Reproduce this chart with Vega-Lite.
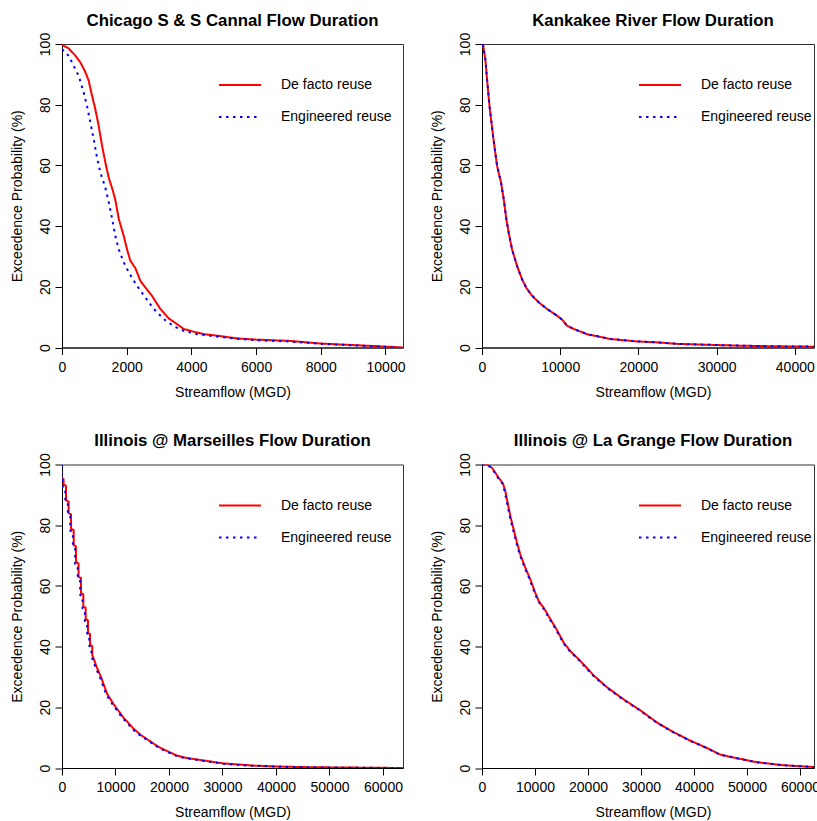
{
  "$schema": "https://vega.github.io/schema/vega-lite/v6.json",
  "background": "white",
  "padding": {"left": 9, "top": 12, "right": 0, "bottom": 0},
  "config": {
    "font": "Liberation Sans",
    "view": {"stroke": "#333333", "strokeWidth": 1},
    "axis": {"grid": false, "domainColor": "black", "domainWidth": 1, "tickColor": "black", "tickSize": 7, "labelColor": "black", "titleColor": "black", "labelFontSize": 14, "titleFontSize": 14, "titleFontWeight": "normal", "labelFont": "Liberation Sans", "titleFont": "Liberation Sans"},
    "axisX": {"labelPadding": 5.5, "format": "d", "titleY": 48.5, "titleBaseline": "alphabetic", "labelFlush": false, "labelOverlap": false},
    "axisY": {"labelAngle": -90, "labelAlign": "center", "labelBaseline": "bottom", "labelPadding": 3, "titleX": -41, "titleY": 151.75, "titleBaseline": "alphabetic", "titleAlign": "center", "titleAngle": -90, "labelFlush": false, "labelOverlap": false},
    "title": {"fontSize": 16.8, "fontWeight": "bold", "font": "Liberation Sans", "color": "black", "anchor": "middle", "frame": "group", "baseline": "alphabetic", "offset": 3},
    "legend": {"orient": "none", "legendX": 156, "legendY": 19, "symbolType": "stroke", "symbolSize": 1764, "symbolStrokeWidth": 2, "labelFontSize": 14, "labelFont": "Liberation Sans", "labelColor": "black", "labelOffset": 19, "padding": 0, "rowPadding": 3, "labelLimit": 300}
  },
  "datasets": {
    "chicago": [
      {"series": "De facto reuse", "flow": 0, "prob": 99.7}, {"series": "De facto reuse", "flow": 200, "prob": 98.6}, {"series": "De facto reuse", "flow": 410, "prob": 96.2}, {"series": "De facto reuse", "flow": 570, "prob": 93.9}, {"series": "De facto reuse", "flow": 720, "prob": 90.8}, {"series": "De facto reuse", "flow": 825, "prob": 87.9}, {"series": "De facto reuse", "flow": 930, "prob": 82.9}, {"series": "De facto reuse", "flow": 1030, "prob": 78.5}, {"series": "De facto reuse", "flow": 1135, "prob": 73.0}, {"series": "De facto reuse", "flow": 1236, "prob": 66.6}, {"series": "De facto reuse", "flow": 1340, "prob": 61.0}, {"series": "De facto reuse", "flow": 1443, "prob": 56.0}, {"series": "De facto reuse", "flow": 1546, "prob": 52.6}, {"series": "De facto reuse", "flow": 1648, "prob": 48.7}, {"series": "De facto reuse", "flow": 1752, "prob": 42.5}, {"series": "De facto reuse", "flow": 1907, "prob": 36.8}, {"series": "De facto reuse", "flow": 2009, "prob": 32.4}, {"series": "De facto reuse", "flow": 2112, "prob": 28.6}, {"series": "De facto reuse", "flow": 2266, "prob": 26.2}, {"series": "De facto reuse", "flow": 2421, "prob": 22.0}, {"series": "De facto reuse", "flow": 2576, "prob": 19.8}, {"series": "De facto reuse", "flow": 2782, "prob": 17.0}, {"series": "De facto reuse", "flow": 3040, "prob": 12.7}, {"series": "De facto reuse", "flow": 3298, "prob": 9.6}, {"series": "De facto reuse", "flow": 3504, "prob": 8.1}, {"series": "De facto reuse", "flow": 3762, "prob": 6.1}, {"series": "De facto reuse", "flow": 4071, "prob": 5.2}, {"series": "De facto reuse", "flow": 4380, "prob": 4.4}, {"series": "De facto reuse", "flow": 4791, "prob": 3.9}, {"series": "De facto reuse", "flow": 5410, "prob": 3.0}, {"series": "De facto reuse", "flow": 6000, "prob": 2.6}, {"series": "De facto reuse", "flow": 7000, "prob": 2.2}, {"series": "De facto reuse", "flow": 8000, "prob": 1.3}, {"series": "De facto reuse", "flow": 9000, "prob": 0.8}, {"series": "De facto reuse", "flow": 10000, "prob": 0.3}, {"series": "De facto reuse", "flow": 10540, "prob": 0},
      {"series": "Engineered reuse", "flow": 0, "prob": 98.3}, {"series": "Engineered reuse", "flow": 206, "prob": 96.1}, {"series": "Engineered reuse", "flow": 361, "prob": 92.8}, {"series": "Engineered reuse", "flow": 516, "prob": 89.5}, {"series": "Engineered reuse", "flow": 670, "prob": 84.0}, {"series": "Engineered reuse", "flow": 773, "prob": 79.6}, {"series": "Engineered reuse", "flow": 876, "prob": 74.2}, {"series": "Engineered reuse", "flow": 979, "prob": 68.7}, {"series": "Engineered reuse", "flow": 1082, "prob": 62.6}, {"series": "Engineered reuse", "flow": 1185, "prob": 57.7}, {"series": "Engineered reuse", "flow": 1339, "prob": 52.7}, {"series": "Engineered reuse", "flow": 1443, "prob": 48.0}, {"series": "Engineered reuse", "flow": 1546, "prob": 42.6}, {"series": "Engineered reuse", "flow": 1648, "prob": 36.8}, {"series": "Engineered reuse", "flow": 1752, "prob": 32.4}, {"series": "Engineered reuse", "flow": 1907, "prob": 28.1}, {"series": "Engineered reuse", "flow": 2061, "prob": 24.8}, {"series": "Engineered reuse", "flow": 2318, "prob": 20.3}, {"series": "Engineered reuse", "flow": 2576, "prob": 16.5}, {"series": "Engineered reuse", "flow": 2834, "prob": 12.7}, {"series": "Engineered reuse", "flow": 3143, "prob": 9.4}, {"series": "Engineered reuse", "flow": 3452, "prob": 7.0}, {"series": "Engineered reuse", "flow": 3762, "prob": 5.5}, {"series": "Engineered reuse", "flow": 4173, "prob": 4.4}, {"series": "Engineered reuse", "flow": 4791, "prob": 3.6}, {"series": "Engineered reuse", "flow": 5410, "prob": 2.9}, {"series": "Engineered reuse", "flow": 6000, "prob": 2.4}, {"series": "Engineered reuse", "flow": 7000, "prob": 2.0}, {"series": "Engineered reuse", "flow": 8000, "prob": 1.2}, {"series": "Engineered reuse", "flow": 9000, "prob": 0.7}, {"series": "Engineered reuse", "flow": 10000, "prob": 0.2}, {"series": "Engineered reuse", "flow": 10400, "prob": 0}
    ],
    "kankakee": [
      {"series": "De facto reuse", "flow": 120, "prob": 100}, {"series": "De facto reuse", "flow": 426, "prob": 95}, {"series": "De facto reuse", "flow": 590, "prob": 90}, {"series": "De facto reuse", "flow": 940, "prob": 80}, {"series": "De facto reuse", "flow": 1400, "prob": 70}, {"series": "De facto reuse", "flow": 1918, "prob": 60}, {"series": "De facto reuse", "flow": 2430, "prob": 54.4}, {"series": "De facto reuse", "flow": 2770, "prob": 49}, {"series": "De facto reuse", "flow": 3112, "prob": 42.3}, {"series": "De facto reuse", "flow": 3410, "prob": 37.9}, {"series": "De facto reuse", "flow": 3836, "prob": 32.4}, {"series": "De facto reuse", "flow": 4476, "prob": 26.9}, {"series": "De facto reuse", "flow": 5115, "prob": 22.5}, {"series": "De facto reuse", "flow": 5700, "prob": 19.5}, {"series": "De facto reuse", "flow": 6394, "prob": 17.1}, {"series": "De facto reuse", "flow": 7246, "prob": 14.9}, {"series": "De facto reuse", "flow": 8312, "prob": 12.7}, {"series": "De facto reuse", "flow": 9591, "prob": 10.5}, {"series": "De facto reuse", "flow": 10230, "prob": 9.2}, {"series": "De facto reuse", "flow": 10870, "prob": 7.2}, {"series": "De facto reuse", "flow": 11726, "prob": 6.1}, {"series": "De facto reuse", "flow": 13427, "prob": 4.4}, {"series": "De facto reuse", "flow": 16410, "prob": 2.8}, {"series": "De facto reuse", "flow": 19821, "prob": 2.0}, {"series": "De facto reuse", "flow": 22380, "prob": 1.7}, {"series": "De facto reuse", "flow": 24936, "prob": 1.2}, {"series": "De facto reuse", "flow": 28772, "prob": 0.9}, {"series": "De facto reuse", "flow": 33035, "prob": 0.6}, {"series": "De facto reuse", "flow": 37300, "prob": 0.4}, {"series": "De facto reuse", "flow": 41560, "prob": 0.3}, {"series": "De facto reuse", "flow": 45000, "prob": 0},
      {"series": "Engineered reuse", "flow": 120, "prob": 100}, {"series": "Engineered reuse", "flow": 426, "prob": 95}, {"series": "Engineered reuse", "flow": 590, "prob": 90}, {"series": "Engineered reuse", "flow": 940, "prob": 80}, {"series": "Engineered reuse", "flow": 1400, "prob": 70}, {"series": "Engineered reuse", "flow": 1918, "prob": 60}, {"series": "Engineered reuse", "flow": 2430, "prob": 54.4}, {"series": "Engineered reuse", "flow": 2770, "prob": 49}, {"series": "Engineered reuse", "flow": 3112, "prob": 42.3}, {"series": "Engineered reuse", "flow": 3410, "prob": 37.9}, {"series": "Engineered reuse", "flow": 3836, "prob": 32.4}, {"series": "Engineered reuse", "flow": 4476, "prob": 26.9}, {"series": "Engineered reuse", "flow": 5115, "prob": 22.5}, {"series": "Engineered reuse", "flow": 5700, "prob": 19.5}, {"series": "Engineered reuse", "flow": 6394, "prob": 17.1}, {"series": "Engineered reuse", "flow": 7246, "prob": 14.9}, {"series": "Engineered reuse", "flow": 8312, "prob": 12.7}, {"series": "Engineered reuse", "flow": 9591, "prob": 10.5}, {"series": "Engineered reuse", "flow": 10230, "prob": 9.2}, {"series": "Engineered reuse", "flow": 10870, "prob": 7.2}, {"series": "Engineered reuse", "flow": 11726, "prob": 6.1}, {"series": "Engineered reuse", "flow": 13427, "prob": 4.4}, {"series": "Engineered reuse", "flow": 16410, "prob": 2.8}, {"series": "Engineered reuse", "flow": 19821, "prob": 2.0}, {"series": "Engineered reuse", "flow": 22380, "prob": 1.7}, {"series": "Engineered reuse", "flow": 24936, "prob": 1.2}, {"series": "Engineered reuse", "flow": 28772, "prob": 0.9}, {"series": "Engineered reuse", "flow": 33035, "prob": 0.6}, {"series": "Engineered reuse", "flow": 37300, "prob": 0.4}, {"series": "Engineered reuse", "flow": 41560, "prob": 0.3}, {"series": "Engineered reuse", "flow": 45000, "prob": 0}
    ],
    "marseilles": [
      {"series": "De facto reuse", "flow": 0, "prob": 95.6}, {"series": "De facto reuse", "flow": 290, "prob": 95.2}, {"series": "De facto reuse", "flow": 310, "prob": 93.4}, {"series": "De facto reuse", "flow": 740, "prob": 93.0}, {"series": "De facto reuse", "flow": 760, "prob": 88.2}, {"series": "De facto reuse", "flow": 1230, "prob": 87.8}, {"series": "De facto reuse", "flow": 1250, "prob": 84.0}, {"series": "De facto reuse", "flow": 1680, "prob": 83.6}, {"series": "De facto reuse", "flow": 1700, "prob": 78.8}, {"series": "De facto reuse", "flow": 2180, "prob": 78.4}, {"series": "De facto reuse", "flow": 2200, "prob": 73.4}, {"series": "De facto reuse", "flow": 2600, "prob": 73.0}, {"series": "De facto reuse", "flow": 2620, "prob": 67.8}, {"series": "De facto reuse", "flow": 3080, "prob": 67.4}, {"series": "De facto reuse", "flow": 3100, "prob": 63.0}, {"series": "De facto reuse", "flow": 3540, "prob": 62.6}, {"series": "De facto reuse", "flow": 3560, "prob": 57.6}, {"series": "De facto reuse", "flow": 3980, "prob": 57.2}, {"series": "De facto reuse", "flow": 4000, "prob": 53.2}, {"series": "De facto reuse", "flow": 4420, "prob": 52.8}, {"series": "De facto reuse", "flow": 4440, "prob": 49.0}, {"series": "De facto reuse", "flow": 4850, "prob": 48.6}, {"series": "De facto reuse", "flow": 4870, "prob": 44.5}, {"series": "De facto reuse", "flow": 5230, "prob": 44.1}, {"series": "De facto reuse", "flow": 5250, "prob": 40.6}, {"series": "De facto reuse", "flow": 5650, "prob": 40.2}, {"series": "De facto reuse", "flow": 5670, "prob": 37.2}, {"series": "De facto reuse", "flow": 6540, "prob": 33.0}, {"series": "De facto reuse", "flow": 7290, "prob": 30.0}, {"series": "De facto reuse", "flow": 8411, "prob": 24.5}, {"series": "De facto reuse", "flow": 9657, "prob": 21.0}, {"series": "De facto reuse", "flow": 10500, "prob": 19.0}, {"series": "De facto reuse", "flow": 11526, "prob": 16.5}, {"series": "De facto reuse", "flow": 12150, "prob": 15.4}, {"series": "De facto reuse", "flow": 13396, "prob": 12.9}, {"series": "De facto reuse", "flow": 14640, "prob": 11.0}, {"series": "De facto reuse", "flow": 15888, "prob": 9.5}, {"series": "De facto reuse", "flow": 17760, "prob": 7.3}, {"series": "De facto reuse", "flow": 19000, "prob": 6.1}, {"series": "De facto reuse", "flow": 20870, "prob": 4.6}, {"series": "De facto reuse", "flow": 21500, "prob": 4.1}, {"series": "De facto reuse", "flow": 23000, "prob": 3.4}, {"series": "De facto reuse", "flow": 25230, "prob": 2.8}, {"series": "De facto reuse", "flow": 30220, "prob": 1.5}, {"series": "De facto reuse", "flow": 35830, "prob": 0.8}, {"series": "De facto reuse", "flow": 40000, "prob": 0.5}, {"series": "De facto reuse", "flow": 45000, "prob": 0.3}, {"series": "De facto reuse", "flow": 50150, "prob": 0.2}, {"series": "De facto reuse", "flow": 57000, "prob": 0.1}, {"series": "De facto reuse", "flow": 63740, "prob": 0},
      {"series": "Engineered reuse", "flow": 0, "prob": 100}, {"series": "Engineered reuse", "flow": 10, "prob": 94.5}, {"series": "Engineered reuse", "flow": 160, "prob": 94.2}, {"series": "Engineered reuse", "flow": 180, "prob": 92.5}, {"series": "Engineered reuse", "flow": 600, "prob": 92.2}, {"series": "Engineered reuse", "flow": 620, "prob": 87.5}, {"series": "Engineered reuse", "flow": 1080, "prob": 87.1}, {"series": "Engineered reuse", "flow": 1100, "prob": 83.4}, {"series": "Engineered reuse", "flow": 1530, "prob": 83.0}, {"series": "Engineered reuse", "flow": 1550, "prob": 78.2}, {"series": "Engineered reuse", "flow": 2030, "prob": 77.8}, {"series": "Engineered reuse", "flow": 2050, "prob": 72.8}, {"series": "Engineered reuse", "flow": 2450, "prob": 72.4}, {"series": "Engineered reuse", "flow": 2470, "prob": 67.2}, {"series": "Engineered reuse", "flow": 2930, "prob": 66.8}, {"series": "Engineered reuse", "flow": 2950, "prob": 62.4}, {"series": "Engineered reuse", "flow": 3390, "prob": 62.0}, {"series": "Engineered reuse", "flow": 3410, "prob": 57.0}, {"series": "Engineered reuse", "flow": 3830, "prob": 56.6}, {"series": "Engineered reuse", "flow": 3850, "prob": 52.6}, {"series": "Engineered reuse", "flow": 4270, "prob": 52.2}, {"series": "Engineered reuse", "flow": 4290, "prob": 48.4}, {"series": "Engineered reuse", "flow": 4700, "prob": 48.0}, {"series": "Engineered reuse", "flow": 4720, "prob": 44.0}, {"series": "Engineered reuse", "flow": 5080, "prob": 43.6}, {"series": "Engineered reuse", "flow": 5100, "prob": 40.2}, {"series": "Engineered reuse", "flow": 5500, "prob": 39.8}, {"series": "Engineered reuse", "flow": 5520, "prob": 36.8}, {"series": "Engineered reuse", "flow": 6390, "prob": 32.6}, {"series": "Engineered reuse", "flow": 7140, "prob": 29.7}, {"series": "Engineered reuse", "flow": 8260, "prob": 24.2}, {"series": "Engineered reuse", "flow": 9500, "prob": 20.8}, {"series": "Engineered reuse", "flow": 10350, "prob": 18.8}, {"series": "Engineered reuse", "flow": 11380, "prob": 16.3}, {"series": "Engineered reuse", "flow": 12000, "prob": 15.2}, {"series": "Engineered reuse", "flow": 13250, "prob": 12.7}, {"series": "Engineered reuse", "flow": 14500, "prob": 10.9}, {"series": "Engineered reuse", "flow": 15750, "prob": 9.4}, {"series": "Engineered reuse", "flow": 17600, "prob": 7.2}, {"series": "Engineered reuse", "flow": 18850, "prob": 6.0}, {"series": "Engineered reuse", "flow": 20700, "prob": 4.5}, {"series": "Engineered reuse", "flow": 21350, "prob": 4.0}, {"series": "Engineered reuse", "flow": 22850, "prob": 3.3}, {"series": "Engineered reuse", "flow": 25100, "prob": 2.7}, {"series": "Engineered reuse", "flow": 30100, "prob": 1.4}, {"series": "Engineered reuse", "flow": 35700, "prob": 0.7}, {"series": "Engineered reuse", "flow": 40000, "prob": 0.45}, {"series": "Engineered reuse", "flow": 45000, "prob": 0.25}, {"series": "Engineered reuse", "flow": 50150, "prob": 0.15}, {"series": "Engineered reuse", "flow": 57000, "prob": 0.05}, {"series": "Engineered reuse", "flow": 63000, "prob": 0}
    ],
    "lagrange": [
      {"series": "De facto reuse", "flow": 0, "prob": 100}, {"series": "De facto reuse", "flow": 943, "prob": 100}, {"series": "De facto reuse", "flow": 1887, "prob": 98.9}, {"series": "De facto reuse", "flow": 2516, "prob": 97.3}, {"series": "De facto reuse", "flow": 3145, "prob": 95.6}, {"series": "De facto reuse", "flow": 3962, "prob": 93.7}, {"series": "De facto reuse", "flow": 4403, "prob": 91.2}, {"series": "De facto reuse", "flow": 4843, "prob": 87.4}, {"series": "De facto reuse", "flow": 5346, "prob": 83.0}, {"series": "De facto reuse", "flow": 5975, "prob": 78.6}, {"series": "De facto reuse", "flow": 6604, "prob": 74.2}, {"series": "De facto reuse", "flow": 7233, "prob": 70.3}, {"series": "De facto reuse", "flow": 8176, "prob": 66.0}, {"series": "De facto reuse", "flow": 9119, "prob": 62.1}, {"series": "De facto reuse", "flow": 10063, "prob": 57.7}, {"series": "De facto reuse", "flow": 10692, "prob": 55.0}, {"series": "De facto reuse", "flow": 11635, "prob": 52.8}, {"series": "De facto reuse", "flow": 12578, "prob": 50.0}, {"series": "De facto reuse", "flow": 14151, "prob": 45.4}, {"series": "De facto reuse", "flow": 15409, "prob": 41.3}, {"series": "De facto reuse", "flow": 16667, "prob": 38.5}, {"series": "De facto reuse", "flow": 18553, "prob": 35.3}, {"series": "De facto reuse", "flow": 21069, "prob": 30.5}, {"series": "De facto reuse", "flow": 23585, "prob": 26.6}, {"series": "De facto reuse", "flow": 26730, "prob": 22.6}, {"series": "De facto reuse", "flow": 29874, "prob": 19.0}, {"series": "De facto reuse", "flow": 33019, "prob": 15.0}, {"series": "De facto reuse", "flow": 36164, "prob": 11.8}, {"series": "De facto reuse", "flow": 39308, "prob": 9.0}, {"series": "De facto reuse", "flow": 42453, "prob": 6.6}, {"series": "De facto reuse", "flow": 44969, "prob": 4.4}, {"series": "De facto reuse", "flow": 48742, "prob": 3.0}, {"series": "De facto reuse", "flow": 51887, "prob": 1.9}, {"series": "De facto reuse", "flow": 56918, "prob": 0.9}, {"series": "De facto reuse", "flow": 61950, "prob": 0.4}, {"series": "De facto reuse", "flow": 64300, "prob": 0},
      {"series": "Engineered reuse", "flow": 0, "prob": 100}, {"series": "Engineered reuse", "flow": 900, "prob": 100}, {"series": "Engineered reuse", "flow": 1800, "prob": 98.9}, {"series": "Engineered reuse", "flow": 2400, "prob": 97.3}, {"series": "Engineered reuse", "flow": 3030, "prob": 95.6}, {"series": "Engineered reuse", "flow": 3850, "prob": 93.7}, {"series": "Engineered reuse", "flow": 4280, "prob": 91.2}, {"series": "Engineered reuse", "flow": 4720, "prob": 87.4}, {"series": "Engineered reuse", "flow": 5220, "prob": 83.0}, {"series": "Engineered reuse", "flow": 5850, "prob": 78.6}, {"series": "Engineered reuse", "flow": 6480, "prob": 74.2}, {"series": "Engineered reuse", "flow": 7110, "prob": 70.3}, {"series": "Engineered reuse", "flow": 8050, "prob": 66.0}, {"series": "Engineered reuse", "flow": 9000, "prob": 62.1}, {"series": "Engineered reuse", "flow": 9940, "prob": 57.7}, {"series": "Engineered reuse", "flow": 10570, "prob": 55.0}, {"series": "Engineered reuse", "flow": 11510, "prob": 52.8}, {"series": "Engineered reuse", "flow": 12450, "prob": 50.0}, {"series": "Engineered reuse", "flow": 14030, "prob": 45.4}, {"series": "Engineered reuse", "flow": 15290, "prob": 41.3}, {"series": "Engineered reuse", "flow": 16550, "prob": 38.5}, {"series": "Engineered reuse", "flow": 18430, "prob": 35.3}, {"series": "Engineered reuse", "flow": 20950, "prob": 30.5}, {"series": "Engineered reuse", "flow": 23470, "prob": 26.6}, {"series": "Engineered reuse", "flow": 26610, "prob": 22.6}, {"series": "Engineered reuse", "flow": 29760, "prob": 19.0}, {"series": "Engineered reuse", "flow": 32900, "prob": 15.0}, {"series": "Engineered reuse", "flow": 36050, "prob": 11.8}, {"series": "Engineered reuse", "flow": 39190, "prob": 9.0}, {"series": "Engineered reuse", "flow": 42340, "prob": 6.6}, {"series": "Engineered reuse", "flow": 44850, "prob": 4.4}, {"series": "Engineered reuse", "flow": 48630, "prob": 3.0}, {"series": "Engineered reuse", "flow": 51770, "prob": 1.9}, {"series": "Engineered reuse", "flow": 56800, "prob": 0.9}, {"series": "Engineered reuse", "flow": 61850, "prob": 0.4}, {"series": "Engineered reuse", "flow": 64200, "prob": 0}
    ]
  },
  "columns": 2,
  "spacing": {"row": 116.5, "column": 79},
  "bounds": "flush",
  "resolve": {"scale": {"x": "independent", "y": "independent", "color": "independent", "strokeDash": "independent"}, "legend": {"color": "independent", "strokeDash": "independent"}},
  "concat": [
    {
      "title": {"text": "Chicago S & S Cannal Flow Duration"},
      "width": 341, "height": 303.5,
      "data": {"name": "chicago"},
      "mark": {"type": "line", "strokeWidth": 2, "clip": true},
      "encoding": {
        "x": {"field": "flow", "type": "quantitative", "scale": {"domain": [0, 10541], "nice": false, "zero": false}, "axis": {"values": [0, 2000, 4000, 6000, 8000, 10000], "title": "Streamflow (MGD)", "titleX": 170.5}},
        "y": {"field": "prob", "type": "quantitative", "scale": {"domain": [0, 100], "nice": false}, "axis": {"values": [0, 20, 40, 60, 80, 100], "title": "Exceedence Probability (%)"}},
        "color": {"field": "series", "type": "nominal", "scale": {"domain": ["De facto reuse", "Engineered reuse"], "range": ["#FF0000", "#0000FF"]}, "legend": {"title": null}},
        "strokeDash": {"field": "series", "type": "nominal", "scale": {"domain": ["De facto reuse", "Engineered reuse"], "range": [[1, 0], [2.5, 4.5]]}, "legend": {"title": null}}
      }
    },
    {
      "title": {"text": "Kankakee River Flow Duration", "dx": 5},
      "width": 332, "height": 303.5,
      "data": {"name": "kankakee"},
      "mark": {"type": "line", "strokeWidth": 2, "clip": true},
      "encoding": {
        "x": {"field": "flow", "type": "quantitative", "scale": {"domain": [0, 42455], "nice": false, "zero": false}, "axis": {"values": [0, 10000, 20000, 30000, 40000], "title": "Streamflow (MGD)", "titleX": 171}},
        "y": {"field": "prob", "type": "quantitative", "scale": {"domain": [0, 100], "nice": false}, "axis": {"values": [0, 20, 40, 60, 80, 100], "title": "Exceedence Probability (%)"}},
        "color": {"field": "series", "type": "nominal", "scale": {"domain": ["De facto reuse", "Engineered reuse"], "range": ["#FF0000", "#0000FF"]}, "legend": {"title": null}},
        "strokeDash": {"field": "series", "type": "nominal", "scale": {"domain": ["De facto reuse", "Engineered reuse"], "range": [[1, 0], [2.5, 4.5]]}, "legend": {"title": null}}
      }
    },
    {
      "title": {"text": "Illinois @ Marseilles Flow Duration"},
      "width": 341, "height": 303.5,
      "data": {"name": "marseilles"},
      "mark": {"type": "line", "strokeWidth": 2, "clip": true},
      "encoding": {
        "x": {"field": "flow", "type": "quantitative", "scale": {"domain": [0, 63740], "nice": false, "zero": false}, "axis": {"values": [0, 10000, 20000, 30000, 40000, 50000, 60000], "title": "Streamflow (MGD)", "titleX": 170.5}},
        "y": {"field": "prob", "type": "quantitative", "scale": {"domain": [0, 100], "nice": false}, "axis": {"values": [0, 20, 40, 60, 80, 100], "title": "Exceedence Probability (%)"}},
        "color": {"field": "series", "type": "nominal", "scale": {"domain": ["De facto reuse", "Engineered reuse"], "range": ["#FF0000", "#0000FF"]}, "legend": {"title": null}},
        "strokeDash": {"field": "series", "type": "nominal", "scale": {"domain": ["De facto reuse", "Engineered reuse"], "range": [[1, 0], [2.5, 4.5]]}, "legend": {"title": null}}
      }
    },
    {
      "title": {"text": "Illinois @ La Grange Flow Duration", "dx": 5},
      "width": 332, "height": 303.5,
      "data": {"name": "lagrange"},
      "mark": {"type": "line", "strokeWidth": 2, "clip": true},
      "encoding": {
        "x": {"field": "flow", "type": "quantitative", "scale": {"domain": [0, 62640], "nice": false, "zero": false}, "axis": {"values": [0, 10000, 20000, 30000, 40000, 50000, 60000], "title": "Streamflow (MGD)", "titleX": 171}},
        "y": {"field": "prob", "type": "quantitative", "scale": {"domain": [0, 100], "nice": false}, "axis": {"values": [0, 20, 40, 60, 80, 100], "title": "Exceedence Probability (%)"}},
        "color": {"field": "series", "type": "nominal", "scale": {"domain": ["De facto reuse", "Engineered reuse"], "range": ["#FF0000", "#0000FF"]}, "legend": {"title": null}},
        "strokeDash": {"field": "series", "type": "nominal", "scale": {"domain": ["De facto reuse", "Engineered reuse"], "range": [[1, 0], [2.5, 4.5]]}, "legend": {"title": null}}
      }
    }
  ]
}
